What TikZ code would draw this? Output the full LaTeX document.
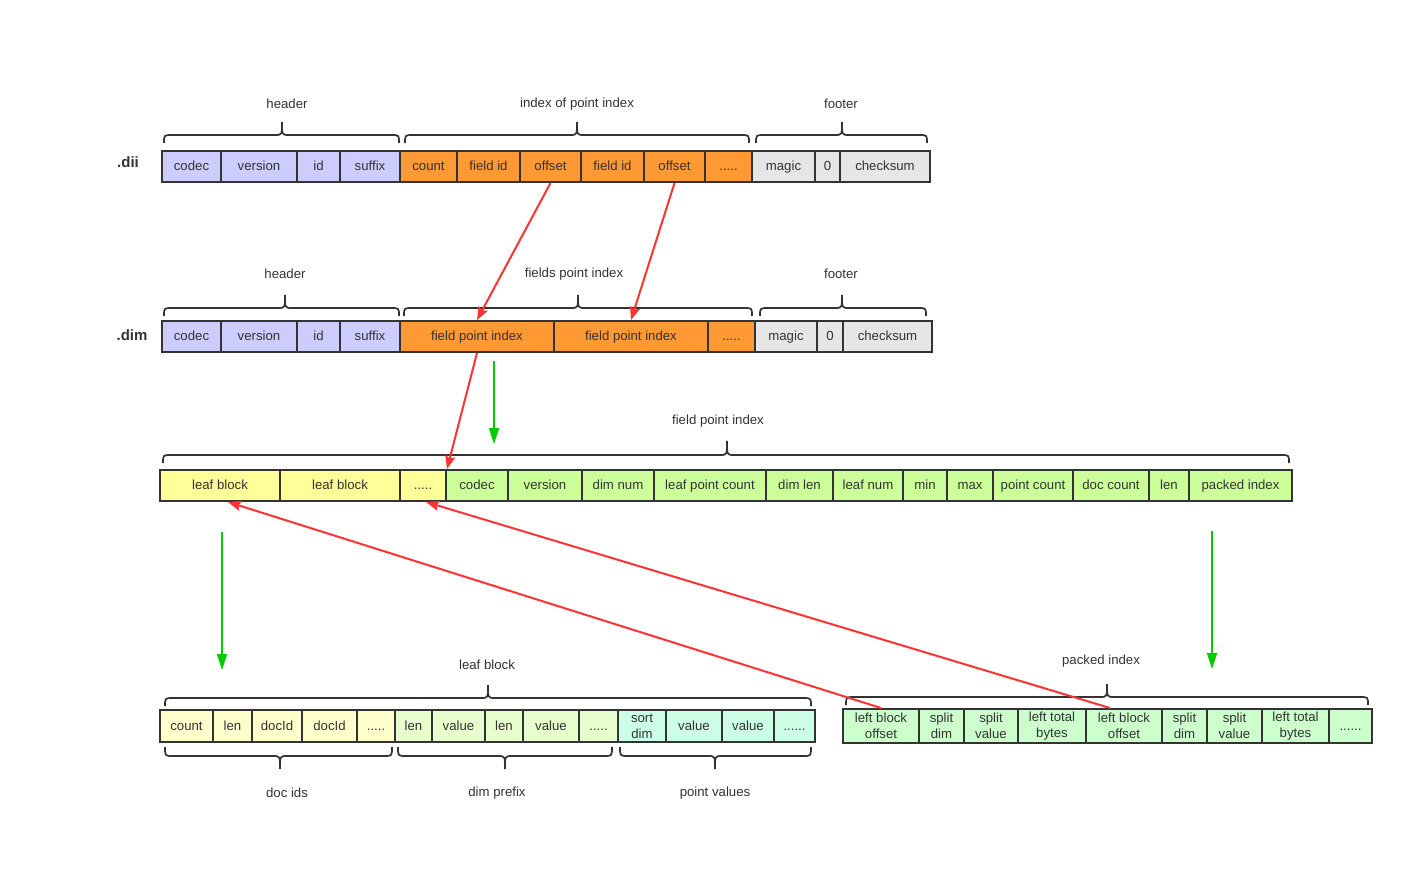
\documentclass[tikz,border=0pt]{standalone}
\usepackage{fontspec}
\setmainfont{Liberation Sans}
\usetikzlibrary{arrows.meta}

\definecolor{ink}{HTML}{333333}
\definecolor{lav}{HTML}{CCCCFF}
\definecolor{orng}{HTML}{FF9933}
\definecolor{lgray}{HTML}{E6E6E6}
\definecolor{yel}{HTML}{FFFF99}
\definecolor{lime}{HTML}{CCFF99}
\definecolor{pyel}{HTML}{FFFFCC}
\definecolor{pgrn}{HTML}{E6FFCC}
\definecolor{mint}{HTML}{CCFFE6}
\definecolor{pkgrn}{HTML}{CCFFCC}
\definecolor{redln}{HTML}{FF3333}
\definecolor{grnln}{HTML}{00CC00}

\tikzset{
  cell/.style={draw=ink, line width=2pt, inner sep=0pt, align=center,
    text=ink, font=\fontsize{13.2}{16}\selectfont,
    text height=10.5pt, text depth=2pt},
  twoline/.style={text height={}, text depth={}},
  lbl/.style={text=ink, inner sep=0pt, font=\fontsize{13.2}{15}\selectfont},
  ftag/.style={text=ink, inner sep=0pt, font=\fontsize{15}{17}\selectfont\bfseries},
  bracestyle/.style={draw=ink, line width=1.7pt},
  redarrow/.style={draw=redln, line width=2pt,
    -{Stealth[length=13pt, width=10pt, inset=2pt]}},
  grnarrow/.style={draw=grnln, line width=1.6pt,
    -{Triangle[length=16pt, width=10pt]}},
}

% one field of a record: name, x1, x2, y1, y2, options, text
\newcommand{\fieldcell}[7]{%
  \pgfmathsetmacro\fcx{(#2+#3)/2}%
  \pgfmathsetmacro\fcy{(#4+#5)/2}%
  \pgfmathsetmacro\fcw{#3-#2}%
  \pgfmathsetmacro\fch{#5-#4}%
  \node[cell, #6, minimum width=\fcw pt, minimum height=\fch pt] (#1) at (\fcx,\fcy) {#7};}

% curly brace: x1, x2, tip x, end y, bar y, tip y
\newcommand{\fieldbrace}[6]{%
  \draw[bracestyle] (#1,#4) .. controls (#1,#5) .. (#1+8,#5) -- (#3-7,#5)
    .. controls (#3,#5) .. (#3,#6) .. controls (#3,#5) .. (#3+7,#5)
    -- (#2-8,#5) .. controls (#2,#5) .. (#2,#4);}

\begin{document}
\begin{tikzpicture}[x=1pt, y=-1pt]
\path[fill=white] (0,0) rectangle (1404,890);
\useasboundingbox (0,0) rectangle (1404,890);

% ---------- .dii file ----------
\node[ftag] (tagdii) at (128,162) {.dii};
\fieldcell{dii-codec}{162}{221}{151}{182}{fill=lav}{codec}
\fieldcell{dii-ver}{221}{297}{151}{182}{fill=lav}{version}
\fieldcell{dii-id}{297}{340}{151}{182}{fill=lav}{id}
\fieldcell{dii-suf}{340}{400}{151}{182}{fill=lav}{suffix}
\fieldcell{dii-cnt}{400}{457}{151}{182}{fill=orng}{count}
\fieldcell{dii-fid1}{457}{520}{151}{182}{fill=orng}{field id}
\fieldcell{dii-off1}{520}{581}{151}{182}{fill=orng}{offset}
\fieldcell{dii-fid2}{581}{644}{151}{182}{fill=orng}{field id}
\fieldcell{dii-off2}{644}{705}{151}{182}{fill=orng}{offset}
\fieldcell{dii-dots}{705}{752}{151}{182}{fill=orng}{.....}
\fieldcell{dii-mag}{752}{815}{151}{182}{fill=lgray}{magic}
\fieldcell{dii-zero}{815}{840}{151}{182}{fill=lgray}{0}
\fieldcell{dii-chk}{840}{930}{151}{182}{fill=lgray}{checksum}

\fieldbrace{164}{399}{282}{143}{135}{122}
\fieldbrace{405}{749}{577}{143}{135}{122}
\fieldbrace{756}{927}{842}{143}{135}{122}
\node[lbl] (dii-l1) at (287,104) {header};
\node[lbl] (dii-l2) at (577,104) {index of point index};
\node[lbl] (dii-l3) at (841,104) {footer};

% ---------- .dim file ----------
\node[ftag] (tagdim) at (132,335) {.dim};
\fieldcell{dim-codec}{162}{221}{321}{352}{fill=lav}{codec}
\fieldcell{dim-ver}{221}{297}{321}{352}{fill=lav}{version}
\fieldcell{dim-id}{297}{340}{321}{352}{fill=lav}{id}
\fieldcell{dim-suf}{340}{400}{321}{352}{fill=lav}{suffix}
\fieldcell{dim-fpi1}{400}{554}{321}{352}{fill=orng}{field point index}
\fieldcell{dim-fpi2}{554}{708}{321}{352}{fill=orng}{field point index}
\fieldcell{dim-dots}{708}{755}{321}{352}{fill=orng}{.....}
\fieldcell{dim-mag}{755}{817}{321}{352}{fill=lgray}{magic}
\fieldcell{dim-zero}{817}{843}{321}{352}{fill=lgray}{0}
\fieldcell{dim-chk}{843}{932}{321}{352}{fill=lgray}{checksum}

\fieldbrace{164}{399}{285}{316}{308}{295}
\fieldbrace{404}{752}{578}{316}{308}{295}
\fieldbrace{760}{926}{842}{316}{308}{295}
\node[lbl] (dim-l1) at (285,274) {header};
\node[lbl] (dim-l2) at (574,274) {fields point index};
\node[lbl] (dim-l3) at (841,274) {footer};

% ---------- field point index ----------
\fieldcell{fpi-lb1}{160}{280}{470}{501}{fill=yel}{leaf block}
\fieldcell{fpi-lb2}{280}{400}{470}{501}{fill=yel}{leaf block}
\fieldcell{fpi-dots}{400}{446}{470}{501}{fill=yel}{.....}
\fieldcell{fpi-codec}{446}{508}{470}{501}{fill=lime}{codec}
\fieldcell{fpi-ver}{508}{582}{470}{501}{fill=lime}{version}
\fieldcell{fpi-dnum}{582}{654}{470}{501}{fill=lime}{dim num}
\fieldcell{fpi-lpc}{654}{766}{470}{501}{fill=lime}{leaf point count}
\fieldcell{fpi-dlen}{766}{833}{470}{501}{fill=lime}{dim len}
\fieldcell{fpi-lnum}{833}{903}{470}{501}{fill=lime}{leaf num}
\fieldcell{fpi-min}{903}{947}{470}{501}{fill=lime}{min}
\fieldcell{fpi-max}{947}{993}{470}{501}{fill=lime}{max}
\fieldcell{fpi-pcnt}{993}{1073}{470}{501}{fill=lime}{point count}
\fieldcell{fpi-dcnt}{1073}{1149}{470}{501}{fill=lime}{doc count}
\fieldcell{fpi-len}{1149}{1189}{470}{501}{fill=lime}{len}
\fieldcell{fpi-pidx}{1189}{1292}{470}{501}{fill=lime}{packed index}

\fieldbrace{163}{1289}{727}{463}{455}{441}
\node[lbl] (fpi-l) at (718,421) {field point index};

% ---------- leaf block ----------
\fieldcell{lf-cnt}{160}{213}{710}{742}{fill=pyel}{count}
\fieldcell{lf-len1}{213}{252}{710}{742}{fill=pyel}{len}
\fieldcell{lf-doc1}{252}{302}{710}{742}{fill=pyel}{docId}
\fieldcell{lf-doc2}{302}{357}{710}{742}{fill=pyel}{docId}
\fieldcell{lf-dots1}{357}{395}{710}{742}{fill=pyel}{.....}
\fieldcell{lf-len2}{395}{432}{710}{742}{fill=pgrn}{len}
\fieldcell{lf-val1}{432}{485}{710}{742}{fill=pgrn}{value}
\fieldcell{lf-len3}{485}{523}{710}{742}{fill=pgrn}{len}
\fieldcell{lf-val2}{523}{579}{710}{742}{fill=pgrn}{value}
\fieldcell{lf-dots2}{579}{618}{710}{742}{fill=pgrn}{.....}
\fieldcell{lf-sort}{618}{666}{710}{742}{fill=mint, twoline}{sort\\dim}
\fieldcell{lf-val3}{666}{722}{710}{742}{fill=mint}{value}
\fieldcell{lf-val4}{722}{774}{710}{742}{fill=mint}{value}
\fieldcell{lf-dots3}{774}{815}{710}{742}{fill=mint}{......}

\fieldbrace{165}{811}{488}{706}{698}{685}
\node[lbl] (lf-l) at (487,665) {leaf block};
\fieldbrace{165}{392}{280}{747}{756}{769}
\fieldbrace{398}{612}{505}{747}{756}{769}
\fieldbrace{620}{811}{715}{747}{756}{769}
\node[lbl] (lf-b1) at (287,793) {doc ids};
\node[lbl] (lf-b2) at (497,793) {dim prefix};
\node[lbl] (lf-b3) at (715,793) {point values};

% ---------- packed index ----------
\fieldcell{pk-lbo1}{843}{919}{709}{743}{fill=pkgrn, twoline}{left block\\offset}
\fieldcell{pk-sd1}{919}{964}{709}{743}{fill=pkgrn, twoline}{split\\dim}
\fieldcell{pk-sv1}{964}{1018}{709}{743}{fill=pkgrn, twoline}{split\\value}
\fieldcell{pk-ltb1}{1018}{1086}{709}{743}{fill=pkgrn, twoline}{left total\\bytes}
\fieldcell{pk-lbo2}{1086}{1162}{709}{743}{fill=pkgrn, twoline}{left block\\offset}
\fieldcell{pk-sd2}{1162}{1207}{709}{743}{fill=pkgrn, twoline}{split\\dim}
\fieldcell{pk-sv2}{1207}{1262}{709}{743}{fill=pkgrn, twoline}{split\\value}
\fieldcell{pk-ltb2}{1262}{1329}{709}{743}{fill=pkgrn, twoline}{left total\\bytes}
\fieldcell{pk-dots}{1329}{1372}{709}{743}{fill=pkgrn}{......}

\fieldbrace{846}{1368}{1107}{705}{697}{684}
\node[lbl] (pk-l) at (1101,661) {packed index};

% ---------- references between structures ----------
\draw[redarrow] (dii-off1.south) -- (dim-fpi1.north);
\draw[redarrow] (dii-off2.south) -- (dim-fpi2.north);
\draw[redarrow] (dim-fpi1.south) -- (fpi-dots.north east);
\draw[redarrow] (pk-lbo1.north) -- ([xshift=8pt]fpi-lb1.south);
\draw[redarrow] ([xshift=-14pt]pk-lbo2.north) -- ([xshift=3pt]fpi-dots.south);

% ---------- expansion arrows ----------
\coordinate (g1s) at (494,361);
\coordinate (g1e) at (494,444);
\coordinate (g2s) at (222,532);
\coordinate (g2e) at (222,670);
\coordinate (g3s) at (1212,531);
\coordinate (g3e) at (1212,669);
\draw[grnarrow] (g1s) -- (g1e);
\draw[grnarrow] (g2s) -- (g2e);
\draw[grnarrow] (g3s) -- (g3e);
\end{tikzpicture}
\end{document}
